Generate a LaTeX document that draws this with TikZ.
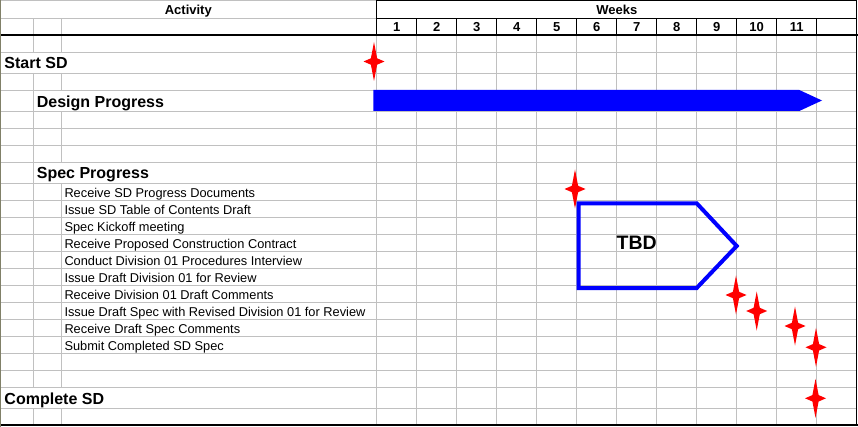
\documentclass[tikz,border=0pt]{standalone}
\usepackage{fontspec}
\setmainfont{Liberation Sans}
\definecolor{gridgray}{RGB}{192,192,192}
\definecolor{framecol}{RGB}{128,128,104}

\begin{document}
\begin{tikzpicture}[x=1pt, y=-1pt,
                    grid/.style={draw=gridgray, line width=0.8pt},
                    rule/.style={draw=black, line width=0.9pt},
                    thickrule/.style={draw=black, line width=1.8pt},
                    head/.style={font=\fontsize{13}{15}\selectfont\bfseries, inner sep=0pt, anchor=base},
                    weeknum/.style={font=\fontsize{13}{15}\selectfont\bfseries, inner sep=0pt, anchor=base},
                    phase/.style={font=\fontsize{16}{19}\selectfont\bfseries, inner sep=0pt, anchor=base west},
                    task/.style={font=\fontsize{12.8}{15}\selectfont, inner sep=0pt, anchor=base west},
                    mstone/.pic={\fill[red] (0,-19.5) -- (3.1,-3.2) -- (10.5,0) -- (3.1,3.2) -- (0,19.5) -- (-3.1,3.2) -- (-10.5,0) -- (-3.1,-3.2) -- cycle;},
                ]
                \useasboundingbox (0,0) rectangle (858,427);
                %Grid
                \foreach \y in {52,73,90,111.5,128.5,145.5,162.5,183.3,200.3,217.3,234.3,251.3,268.3,285.3,302.3,319.3,336.3,353.3,370.3,387.3,408.3}
                    \draw[grid] (0,\y) -- (857,\y);
                \draw[grid] (0,0.8) -- (376.7,0.8) (0,18.3) -- (376.7,18.3);
                \draw[grid] (33,18.3) -- (33,52) (33,73) -- (33,387.3) (33,408.3) -- (33,425);
                \draw[grid] (61,18.3) -- (61,52) (61,73) -- (61,90) (61,111.5) -- (61,162.5) (61,183.3) -- (61,387.3) (61,408.3) -- (61,425);
                \foreach \k in {0,...,11}
                    \draw[grid] ({376.7+40*\k},35) -- ({376.7+40*\k},425);
                %Header
                \draw[rule] (376.7,35) -- (376.7,0.8) -- (856.8,0.8) -- (856.8,425);
                \draw[rule] (376.7,18.3) -- (856.8,18.3);
                \foreach \k in {1,...,11}
                    \draw[rule] ({376.7+40*\k},18.3) -- ({376.7+40*\k},35);
                \draw[thickrule] (0,35) -- (857.5,35);
                \draw[thickrule] (0,425) -- (857.5,425);
                \draw[framecol, line width=1.2pt] (0.6,0) -- (0.6,427);
                %Nodes
                \node[head] (act) at (188.3,15) {Activity};
                \node[head] (wks) at (616.8,15) {Weeks};
                \foreach \k in {1,...,11}
                    \node[weeknum] (wk\k) at ({356.7+40*\k},31.7) {\k};
                \node[phase] (start)    at (4.3,68.7)  {Start SD};
                \node[phase] (design)   at (36.7,107.3) {Design Progress};
                \node[phase] (spec)     at (36.7,179)  {Spec Progress};
                \foreach \t [count=\i] in {Receive SD Progress Documents,
                                           Issue SD Table of Contents Draft,
                                           Spec Kickoff meeting,
                                           Receive Proposed Construction Contract,
                                           Conduct Division 01 Procedures Interview,
                                           Issue Draft Division 01 for Review,
                                           Receive Division 01 Draft Comments,
                                           Issue Draft Spec with Revised Division 01 for Review,
                                           Receive Draft Spec Comments,
                                           Submit Completed SD Spec}
                    \node[task] (task\i) at (64.3,{180.6+17*\i}) {\t};
                \node[phase] (complete) at (4.3,404)   {Complete SD};
                %Bars
                \fill[blue] (373.3,90) -- (799.3,90) -- (822,100.5) -- (799.3,111) -- (373.3,111) -- cycle;
                \draw[blue, line width=4pt] (578.7,203.3) -- (696.7,203.3) -- (736.7,246) -- (696.7,288) -- (578.7,288) -- cycle;
                \node[font=\fontsize{19.5}{22}\selectfont\bfseries, inner sep=0pt, anchor=base] (tbd) at (636.7,250) {TBD};
                %Milestones
                \pic (ms1) at (374,61.5)    {mstone};
                \pic (ms2) at (575,189)     {mstone};
                \pic (ms3) at (736,295)     {mstone};
                \pic (ms4) at (756.7,311)   {mstone};
                \pic (ms5) at (795,326)     {mstone};
                \pic (ms6) at (816,347.3)   {mstone};
                \pic (ms7) at (815.5,398.3) {mstone};
            \end{tikzpicture}
\end{document}
